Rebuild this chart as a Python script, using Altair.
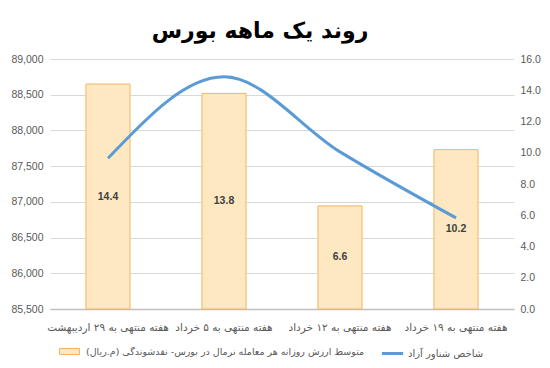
import altair as alt
import pandas as pd

# ---- data ----
categories = [
    "هفته منتهی به ۲۹ اردیبهشت",
    "هفته منتهی به ۵ خرداد",
    "هفته منتهی به ۱۲ خرداد",
    "هفته منتهی به ۱۹ خرداد",
]
liquidity = [14.4, 13.8, 6.6, 10.2]          # bars, right axis
float_index = [87610, 88750, 87700, 86775]   # line, left axis
bar_name = "متوسط ارزش روزانه هر معامله نرمال در بورس- نقدشوندگی (م.ریال)"
line_name = "شاخص شناور آزاد"
left_ticks = [85500, 86000, 86500, 87000, 87500, 88000, 88500, 89000]
right_ticks = [0, 2, 4, 6, 8, 10, 12, 14, 16]
title_text = "روند یک ماهه بورس"

df = pd.DataFrame({
    "week": categories,
    "liq": liquidity,
    "idx": float_index,
    "s_bar": [bar_name] * len(categories),
    "s_line": [line_name] * len(categories),
})

FONT = "Liberation Sans"
AR_FONT = "DejaVu Sans"
LBL = "#595959"

x_enc = alt.X(
    "week:N", sort=categories,
    scale=alt.Scale(paddingInner=0.62, paddingOuter=0.31),
    axis=alt.Axis(title=None, labelAngle=0, labelFontSize=10.5, labelColor=LBL,
                  labelFont=AR_FONT, labelPadding=13, labelLimit=300, ticks=False,
                  domainColor="#bfbfbf", domainWidth=1.5, grid=False),
)

right_axis = alt.Axis(orient="right", values=right_ticks, format=".1f", title=None,
                      grid=False, domain=False, ticks=False, labelPadding=6,
                      labelFontSize=10.5, labelColor=LBL, labelFont=FONT)
bar_scale = alt.Scale(domain=[0, 16], nice=False)

bars = alt.Chart(df).mark_bar(stroke="#f5b462", strokeWidth=1).encode(
    x=x_enc,
    y=alt.Y("liq:Q", scale=bar_scale, axis=right_axis),
    fill=alt.Fill("s_bar:N", scale=alt.Scale(range=["#fde8c2"]),
                  legend=alt.Legend(orient="none", legendX=9, legendY=282, title=None,
                                    labelLimit=400, labelFontSize=9.5, labelColor=LBL,
                                    labelFont=AR_FONT, padding=0, labelOffset=6,
                                    symbolType="M-1,-0.3L1,-0.3L1,0.3L-1,0.3Z",
                                    symbolSize=400, symbolStrokeColor="#f5b462",
                                    symbolStrokeWidth=1)),
)

labels = alt.Chart(df).transform_calculate(half="datum.liq / 2").mark_text(
    font=FONT, fontSize=10.5, fontWeight="bold", color="#404040"
).encode(
    x=x_enc,
    y=alt.Y("half:Q", scale=bar_scale, axis=right_axis),
    text=alt.Text("liq:Q", format=".1f"),
)

line = alt.Chart(df).mark_line(interpolate="monotone", strokeWidth=3).encode(
    x=x_enc,
    y=alt.Y("idx:Q", scale=alt.Scale(domain=[85500, 89000], nice=False, zero=False),
            axis=alt.Axis(orient="left", values=left_ticks, format=",.0f", title=None,
                          grid=True, gridColor="#d9d9d9", domain=False, ticks=False,
                          labelPadding=7, labelFontSize=10.5, labelColor=LBL, labelFont=FONT)),
    stroke=alt.Stroke("s_line:N", scale=alt.Scale(range=["#5b9bd5"]),
                      legend=alt.Legend(orient="none", legendX=330, legendY=282, title=None,
                                        labelLimit=300, labelFontSize=10, labelColor=LBL,
                                        labelFont=AR_FONT, padding=0, labelOffset=3,
                                        symbolType="stroke", symbolSize=450,
                                        symbolStrokeWidth=3)),
)

chart = alt.layer(
    alt.layer(bars, labels), line
).resolve_scale(y="independent").properties(
    width=464, height=250,
    autosize=alt.AutoSizeParams(type="none"),
    padding={"left": 42, "top": 51, "right": 28, "bottom": 51},
    title=alt.TitleParams(title_text, font=AR_FONT, fontSize=22, fontWeight="bold",
                          color="black", anchor="middle", dx=-22, offset=11),
).configure_view(stroke=None)

chart.save("out.html", embed_options={"renderer": "svg", "actions": False})
